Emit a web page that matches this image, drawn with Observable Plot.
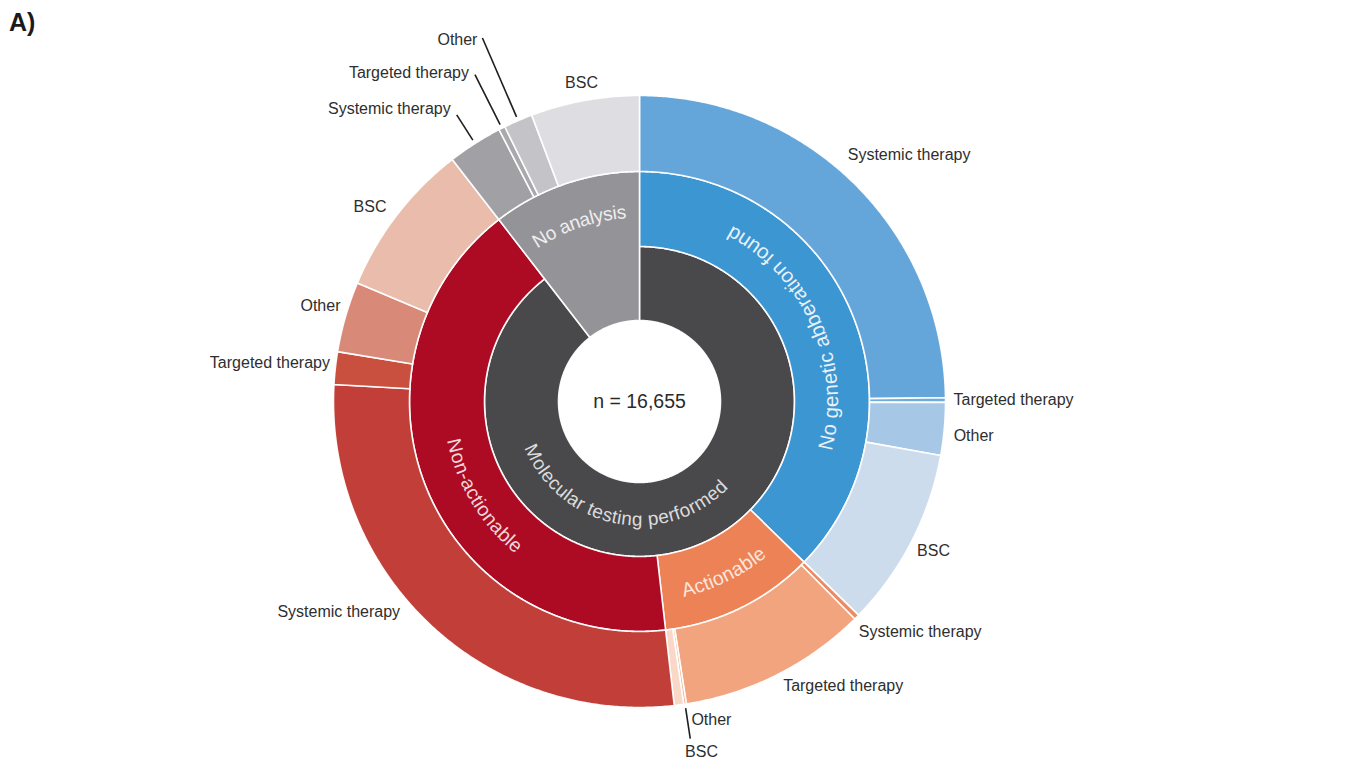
<!DOCTYPE html>
<html>
<head>
<meta charset="utf-8">
<script src="https://cdn.jsdelivr.net/npm/d3@7"></script>
<script src="https://cdn.jsdelivr.net/npm/@observablehq/plot@0.6"></script>
<style>
  body { margin: 0; background: #fff; }
  #wrap { position: relative; width: 1364px; height: 762px; }
  #wrap svg { position: absolute; left: 0; top: 0; }
  #tag { position: absolute; left: 9px; top: 8px; font: bold 25px "Liberation Sans", Arial, sans-serif; color: #1a1a1a; z-index: 2; }
</style>
</head>
<body>
<div id="wrap"><div id="tag">A)</div></div>
<script>
// ---------------- data ----------------
const total = 16655;
const centerLabel = "n = 16,655";
const rootLabel = "Molecular testing performed";
const groups = ["No genetic abberation found", "Actionable", "Non-actionable", "No analysis"];
const treatments = ["Systemic therapy", "Targeted therapy", "Other", "BSC"];
const noAberrationCounts = [4131, 40, 463, 1579];
const actionableCounts = [46, 1661, 23, 83];
const nonActionableCounts = [4612, 287, 620, 1365];
const noAnalysisCounts = [481, 56, 254, 954];

// ---------------- styles / layout ----------------
const rootColor = "#49494b";
const groupColors = ["#3b96d2", "#ec8256", "#ad0b24", "#949498"];
const treatmentColors = [
  ["#64a5da", "#6fabdc", "#a6c8e6", "#cddcec"],
  ["#ea8c63", "#f2a47f", "#f0b496", "#f9d8c8"],
  ["#c13f38", "#c9503f", "#d88978", "#e9bcab"],
  ["#a1a1a5", "#a9a9ad", "#c4c4c8", "#dedee2"]
];
const radii = [81, 155, 230, 306];            // ring boundaries in px
const center = [639, 401];
const labelFont = "'Liberation Sans', Arial, sans-serif";
const arcFont = "'Liberation Sans', Arial, sans-serif";
// curved labels: [root, group0..group3]
const arcLabelLayout = [
  {da: 30, r: 118, size: 19, dir: "in", fill: "#dcdcdc"},
  {da: -1, r: 192, size: 20.5, dir: "in", fill: "#e8f1f9"},
  {da: 0, r: 194, size: 19.5, dir: "in", fill: "#fbe6dc"},
  {da: -9, r: 190, size: 19.5, dir: "in", fill: "#f3d6da"},
  {da: 0, r: 190, size: 19, dir: "out", fill: "#eeeeee"}
];
// outer labels, per group / treatment
const outerLabelLayout = [
  [{da: -4.5, r: 323, anchor: "start"}, {da: 0, r: 314, anchor: "start"}, {da: 1, r: 316, anchor: "start"}, {da: 1, r: 315, anchor: "start"}],
  [{da: 1.6, r: 318, anchor: "start"}, {da: 0, r: 319, anchor: "start"}, {leader: [310, 341], r: 322, anchor: "start", dx: 4}, {da: 0, r: 353, anchor: "start"}],
  [{da: 5.3, r: 319, anchor: "end"}, {da: 0.9, r: 312, anchor: "end"}, {da: 1.7, r: 314, anchor: "end"}, {da: 0, r: 319, anchor: "end"}],
  [{leader: [310, 340], anchor: "end", dx: -6, dy: -6}, {leader: [310, 366], anchor: "end", dx: -6, dy: -2}, {leader: [310, 396], anchor: "end", dx: -5, dy: 2}, {da: 0, r: 324, anchor: "middle"}]
];

// ---------------- geometry helpers ----------------
const K = 3;                                   // px per degree of colatitude
const lat = r => 90 - r / K;
const ang = v => 360 * v / total;
function wedge(a0, a1, r0, r1) {
  const n = Math.max(2, Math.ceil((a1 - a0) / 0.4));
  const inner = d3.range(n + 1).map(i => [a0 + (a1 - a0) * i / n, lat(r0)]);
  const outer = inner.map(([a]) => [a, lat(r1)]).reverse();
  return {type: "Polygon", coordinates: [[...inner, ...outer, inner[0]]]};
}
const ctx = document.createElement("canvas").getContext("2d");
function arcText(label, thetaC, r, size, dir) {
  ctx.font = `${size}px ${arcFont}`;
  const chars = [...label];
  const widths = chars.map(c => ctx.measureText(c).width);
  const W = d3.sum(widths);
  let off = 0;
  return chars.map((ch, i) => {
    const s = off + widths[i] / 2 - W / 2;
    off += widths[i];
    const th = thetaC + (dir === "in" ? -1 : 1) * (s / r) * 180 / Math.PI;
    return {ch, th, lat: lat(r), rot: dir === "in" ? th - 180 : th};
  });
}

// ---------------- build segments ----------------
const groupCounts = [noAberrationCounts, actionableCounts, nonActionableCounts, noAnalysisCounts];
const tested = d3.sum(groupCounts.slice(0, 3).flat());
const segments = [];
const rootSeg = {name: rootLabel, a0: 0, a1: ang(tested), r0: radii[0], r1: radii[1], fill: rootColor};
segments.push(rootSeg);
const groupSegs = [];
const outerSegs = [];
let cum = 0;
groups.forEach((g, i) => {
  const sum = d3.sum(groupCounts[i]);
  const gs = {name: g, a0: ang(cum), a1: ang(cum + sum), r0: i === 3 ? radii[0] : radii[1], r1: radii[2], fill: groupColors[i]};
  groupSegs.push(gs);
  segments.push(gs);
  outerSegs.push(groupCounts[i].map((v, j) => {
    const s = {name: treatments[j], a0: ang(cum), a1: ang(cum + v), r0: radii[2], r1: radii[3], fill: treatmentColors[i][j]};
    cum += v;
    segments.push(s);
    return s;
  }));
});
segments.forEach(s => s.geom = wedge(s.a0, s.a1, s.r0, s.r1));

// curved labels
const arcSegs = [rootSeg, ...groupSegs];
const arcMarks = arcSegs.map((s, k) => {
  const L = arcLabelLayout[k];
  const chars = arcText(s.name, (s.a0 + s.a1) / 2 + L.da, L.r, L.size, L.dir);
  return Plot.text(chars, {
    x: "th", y: "lat", text: "ch", rotate: "rot",
    fontSize: L.size, fontFamily: arcFont, fill: L.fill,
    textAnchor: "middle", lineAnchor: "middle"
  });
});

// outer labels & leaders
const outerLabels = [];
const leaders = [];
groups.forEach((g, i) => treatments.forEach((t, j) => {
  const s = outerSegs[i][j];
  const L = outerLabelLayout[i][j];
  const mid = (s.a0 + s.a1) / 2;
  if (L.leader) {
    leaders.push({th: mid, r0: lat(L.leader[0]), r1: lat(L.leader[1])});
    const r = L.r ?? L.leader[1];
    outerLabels.push({text: t, th: mid, lat: lat(r), anchor: L.anchor, dx: L.dx ?? 0, dy: L.dy ?? 0});
  } else {
    outerLabels.push({text: t, th: mid + L.da, lat: lat(L.r), anchor: L.anchor, dx: 0, dy: 0});
  }
}));
const labelMarks = [];
for (const anchor of ["start", "end", "middle"]) {
  for (const d of outerLabels.filter(l => l.anchor === anchor)) {
    labelMarks.push(Plot.text([d], {
      x: "th", y: "lat", text: "text", textAnchor: anchor, lineAnchor: "middle",
      dx: d.dx, dy: d.dy, fontSize: 16, fontFamily: labelFont, fill: "#2e2e2e"
    }));
  }
}

const projection = d3.geoAzimuthalEquidistant()
  .rotate([180, -90])
  .reflectX(true)
  .scale(540 / Math.PI)
  .translate(center);

const chart = Plot.plot({
  width: 1364,
  height: 762,
  margin: 0,
  projection,
  color: {type: "identity"},
  style: {background: "transparent"},
  marks: [
    Plot.geo(segments, {geometry: "geom", fill: "fill", stroke: "white", strokeWidth: 1.6, strokeOpacity: 0.95}),
    ...arcMarks,
    Plot.link(leaders, {x1: "th", y1: "r0", x2: "th", y2: "r1", stroke: "#1e1e1e", strokeWidth: 1.6}),
    ...labelMarks,
    Plot.text([centerLabel], {x: () => 0, y: () => 90, text: d => d, fontSize: 19.5, fontFamily: labelFont, fill: "#2a2a2a", textAnchor: "middle", lineAnchor: "middle"})
  ]
});
document.getElementById("wrap").appendChild(chart);
</script>
</body>
</html>
